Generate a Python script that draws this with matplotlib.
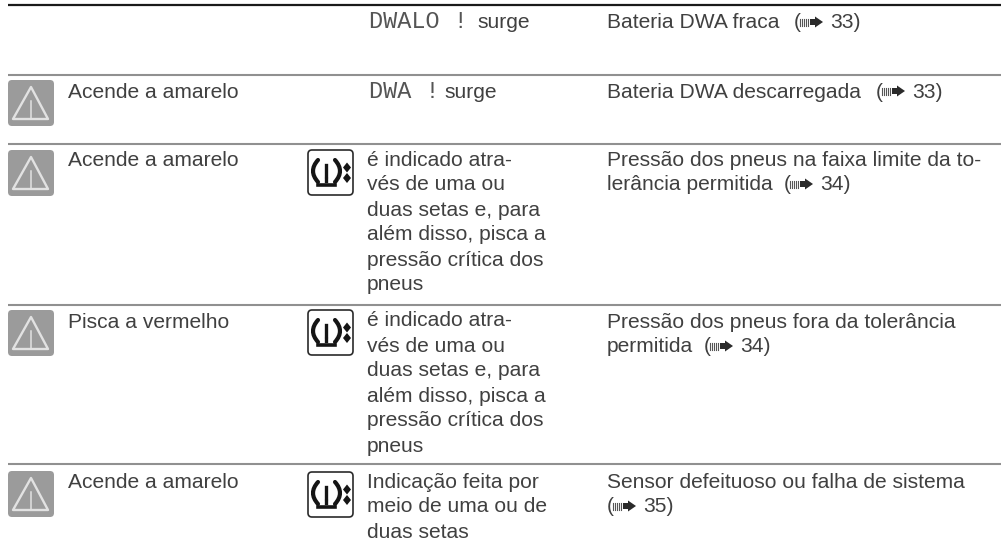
import matplotlib
matplotlib.use("Agg")
import matplotlib.pyplot as plt
from matplotlib.patches import FancyBboxPatch, Polygon, Rectangle, PathPatch
from matplotlib.path import Path
from matplotlib.lines import Line2D

# ---- content ----
status_labels = ["Acende a amarelo", "Acende a amarelo", "Pisca a vermelho", "Acende a amarelo"]
display_codes = ["DWALO !", "DWA !"]
display_notes = ["surge", "surge"]
tyre_notes = [
    ["é indicado atra-", "vés de uma ou", "duas setas e, para", "além disso, pisca a", "pressão crítica dos", "pneus"],
    ["é indicado atra-", "vés de uma ou", "duas setas e, para", "além disso, pisca a", "pressão crítica dos", "pneus"],
    ["Indicação feita por", "meio de uma ou de", "duas setas"],
]
meanings = [
    ["Bateria DWA fraca"],
    ["Bateria DWA descarregada"],
    ["Pressão dos pneus na faixa limite da to-", "lerância permitida"],
    ["Pressão dos pneus fora da tolerância", "permitida"],
    ["Sensor defeituoso ou falha de sistema", ""],
]
page_refs = ["33)", "33)", "34)", "34)", "35)"]

# ---- layout in image pixels ----
rule_y = [75, 143.5, 304.5, 464]
status_y = [97.5, 166.5, 327.5, 487.5]
icon_top = [80, 150, 310, 471]
tyre_top = [150, 310, 472]
tyre_text_y = [165.5, 326.5, 487.5]
code_y = [28.5, 97.5]
code_note_x = [477, 444]
meaning_y = [28.5, 97.5, 165.5, 327.5, 487.5]
ref_paren_x = [794, 876, 784, 704, 607]
ref_line = [0, 0, 1, 1, 1]

FS = 15.1
COL = "#404040"
SANS = "Liberation Sans"
LH = 25

fig = plt.figure(figsize=(10.01, 5.48), dpi=100)
ax = fig.add_axes([0, 0, 1, 1])
ax.set_xlim(0, 1001)
ax.set_ylim(548, 0)
ax.axis("off")

def txt(x, y, s, **kw):
    ax.text(x, y, s, fontsize=kw.pop("fs", FS), color=kw.pop("color", COL), family=kw.pop("family", SANS),
            va="baseline", ha="left", **kw)

def curve(p0, p1, p2, lw, color="#151515"):
    ax.add_patch(PathPatch(Path([p0, p1, p2], [Path.MOVETO, Path.CURVE3, Path.CURVE3]),
                           fc="none", ec=color, lw=lw, capstyle="round"))

def warn_icon(top):
    x0, s = 8, 46
    ax.add_patch(FancyBboxPatch((x0 + 3, top + 3), s - 6, s - 6, boxstyle="round,pad=3,rounding_size=4",
                                fc="#9b9b9b", ec="none"))
    ax.add_patch(Polygon([(x0 + 23, top + 7), (x0 + 5, top + 39), (x0 + 40, top + 39)], closed=True,
                         fc="none", ec="#e2e2e2", lw=1.7, joinstyle="round"))
    ax.add_line(Line2D([x0 + 23, x0 + 23], [top + 21, top + 39], color="#e2e2e2", lw=1.1))

def tyre_icon(top):
    x0, w, h = 308, 45, 45
    ax.add_patch(FancyBboxPatch((x0 + 3, top + 3), w - 6, h - 6, boxstyle="round,pad=3,rounding_size=4",
                                fc="white", ec="#2a2a2a", lw=1.2))
    curve((x0 + 10, top + 10), (x0 + 0, top + 21), (x0 + 10, top + 32), 3.0)
    curve((x0 + 27, top + 10), (x0 + 37, top + 21), (x0 + 27, top + 32), 3.0)
    ax.add_line(Line2D([x0 + 10, x0 + 27], [top + 35, top + 35], color="#151515", lw=2.6))
    ax.add_line(Line2D([x0 + 18, x0 + 18], [top + 15, top + 26], color="#151515", lw=2.4))
    ax.add_line(Line2D([x0 + 18, x0 + 18], [top + 29, top + 31], color="#151515", lw=2.4))
    cx = x0 + 39
    for cy in (top + 17.5, top + 28):
        ax.add_patch(Polygon([(cx, cy - 5), (cx + 4, cy), (cx, cy + 5), (cx - 4, cy)],
                             fc="#151515", ec="none"))

def ref_arrow(x, base):
    cy = base - 6.5
    for i in range(5):
        ax.add_line(Line2D([x + 1 + i * 2.1] * 2, [cy - 3.5, cy + 3.5], color="#555555", lw=0.8))
    ax.add_patch(Rectangle((x + 11, cy - 3), 6, 6, fc="#2a2a2a", ec="none"))
    ax.add_patch(Polygon([(x + 16, cy - 5.5), (x + 24, cy), (x + 16, cy + 5.5)], fc="#2a2a2a", ec="none"))

# rules
ax.add_line(Line2D([8, 1001], [5, 5], color="#1a1a1a", lw=1.6, solid_capstyle="butt"))
for y in rule_y:
    ax.add_line(Line2D([8, 1001], [y, y], color="#909090", lw=1.5, solid_capstyle="butt"))

# first column
for top, y, s in zip(icon_top, status_y, status_labels):
    warn_icon(top)
    txt(68, y, s)

# second column
for y, code, note, nx in zip(code_y, display_codes, display_notes, code_note_x):
    txt(369, y, code, family="Liberation Mono", fs=16.9, color="#555555")
    txt(nx, y, note)
for top, y0, lines in zip(tyre_top, tyre_text_y, tyre_notes):
    tyre_icon(top)
    for i, s in enumerate(lines):
        txt(367, y0 + i * LH, s)

# third column
for y0, lines, ref, px, rl in zip(meaning_y, meanings, page_refs, ref_paren_x, ref_line):
    for i, s in enumerate(lines):
        if s:
            txt(607, y0 + i * LH, s)
    yy = y0 + rl * LH
    txt(px, yy, "(", fs=FS)
    ref_arrow(px + 5, yy)
    txt(px + 36, yy, ref)

fig.savefig("out.png", dpi=100)
